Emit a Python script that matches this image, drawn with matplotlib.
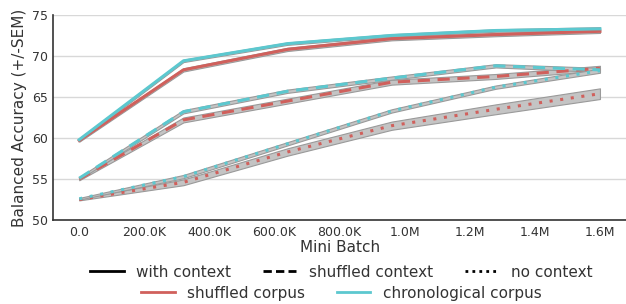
import numpy as np
import matplotlib
matplotlib.use('Agg')
import matplotlib.pyplot as plt
from matplotlib.lines import Line2D
from matplotlib.ticker import FuncFormatter

# mini batch checkpoints
batches = [0, 320000, 640000, 960000, 1280000, 1600000]

# mean balanced accuracy per condition
chron_ctx = [59.8, 69.4, 71.5, 72.5, 73.1, 73.3]
shuf_ctx = [59.7, 68.3, 70.8, 72.1, 72.6, 73.0]
chron_shufctx = [55.1, 63.2, 65.7, 67.3, 68.8, 68.3]
shuf_shufctx = [55.0, 62.2, 64.5, 66.8, 67.5, 68.5]
chron_noctx = [52.6, 55.3, 59.3, 63.3, 66.2, 68.2]
shuf_noctx = [52.5, 54.6, 58.3, 61.5, 63.5, 65.4]

# SEM
sem_chron_ctx = [0.15, 0.15, 0.15, 0.15, 0.15, 0.2]
sem_shuf_ctx = [0.15, 0.2, 0.2, 0.2, 0.2, 0.2]
sem_chron_shufctx = [0.15, 0.2, 0.2, 0.2, 0.2, 0.25]
sem_shuf_shufctx = [0.15, 0.3, 0.3, 0.3, 0.3, 0.3]
sem_chron_noctx = [0.1, 0.2, 0.2, 0.2, 0.2, 0.25]
sem_shuf_noctx = [0.1, 0.35, 0.45, 0.5, 0.6, 0.65]

RED = '#d0605c'
TEAL = '#5cc8cf'

series = [
    (shuf_ctx, sem_shuf_ctx, RED, '-'),
    (chron_ctx, sem_chron_ctx, TEAL, '-'),
    (shuf_shufctx, sem_shuf_shufctx, RED, (0, (4, 2.5))),
    (chron_shufctx, sem_chron_shufctx, TEAL, (0, (4, 2.5))),
    (shuf_noctx, sem_shuf_noctx, RED, (0, (1, 2.5))),
    (chron_noctx, sem_chron_noctx, TEAL, (0, (1, 2.5))),
]

fig = plt.figure(figsize=(6.26, 3.04), dpi=100)
ax = fig.add_axes([0.085, 0.276, 0.915, 0.675])

x = np.array(batches)
for mean, sem, color, ls in series:
    mean = np.array(mean)
    sem = np.array(sem)
    ax.fill_between(x, mean - sem, mean + sem, facecolor='#c4c4c4',
                    edgecolor='#9a9a9a', linewidth=0.8, zorder=2)
    ax.plot(x, mean, color=color, linestyle=ls, linewidth=2.2, zorder=3)

ax.set_xlim(-80000, 1680000)
ax.set_ylim(50, 75)
ax.set_yticks([50, 55, 60, 65, 70, 75])
ax.set_xticks(np.arange(0, 1600001, 200000))


def fmt(v, pos):
    if v == 0:
        return '0.0'
    if v >= 1e6:
        return f'{v / 1e6:.1f}M'
    return f'{v / 1e3:.1f}K'


ax.xaxis.set_major_formatter(FuncFormatter(fmt))
ax.yaxis.grid(True, color='#d8d8d8', linewidth=1)
ax.set_axisbelow(True)
for s in ['top', 'right']:
    ax.spines[s].set_visible(False)
for s in ['left', 'bottom']:
    ax.spines[s].set_color('#333333')
    ax.spines[s].set_linewidth(1.2)
ax.tick_params(axis='both', length=0, labelsize=9, colors='#333333', pad=4)
ax.set_xlabel('Mini Batch', fontsize=11, color='#333333', labelpad=1)
ax.set_ylabel('Balanced Accuracy (+/-SEM)', fontsize=11, color='#333333',
              labelpad=3)

h1 = [Line2D([], [], color='black', linestyle='-', linewidth=2),
      Line2D([], [], color='black', linestyle=(0, (3, 1.5)), linewidth=2),
      Line2D([], [], color='black', linestyle=(0, (1, 1.5)), linewidth=2)]
fig.legend(h1, ['with context', 'shuffled context', 'no context'],
           loc='center', bbox_to_anchor=(0.545, 0.105), ncol=3,
           frameon=False, fontsize=11, handlelength=2.2,
           columnspacing=2.1, borderpad=0, labelcolor='#333333')
h2 = [Line2D([], [], color=RED, linewidth=2),
      Line2D([], [], color=TEAL, linewidth=2)]
fig.legend(h2, ['shuffled corpus', 'chronological corpus'],
           loc='center', bbox_to_anchor=(0.545, 0.036), ncol=2,
           frameon=False, fontsize=11, handlelength=2.2,
           columnspacing=2.1, borderpad=0, labelcolor='#333333')

fig.savefig('out.png', dpi=100)
